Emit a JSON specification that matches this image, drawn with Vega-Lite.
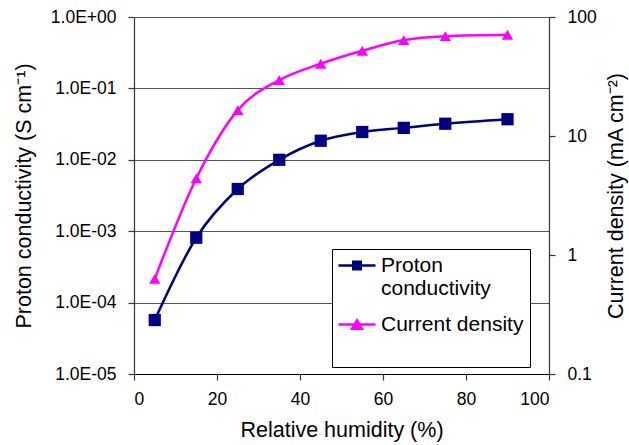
{
  "$schema": "https://vega.github.io/schema/vega-lite/v6.json",
  "width": 415,
  "height": 357,
  "autosize": {"type": "none"},
  "padding": {"left": 134, "top": 17, "right": 80, "bottom": 71},
  "background": "white",
  "config": {
    "font": "Liberation Sans",
    "view": {"stroke": null},
    "axis": {
      "labelFont": "Liberation Sans",
      "titleFont": "Liberation Sans",
      "labelColor": "black",
      "titleColor": "black",
      "titleFontWeight": "normal",
      "domainColor": "#333333",
      "tickColor": "#333333",
      "domainWidth": 1.2,
      "tickWidth": 1.2,
      "tickSize": 6
    }
  },
  "data": {
    "values": [
      {"rh": 5, "series": "Proton conductivity", "value": 0.000057},
      {"rh": 15, "series": "Proton conductivity", "value": 0.00081},
      {"rh": 25, "series": "Proton conductivity", "value": 0.0039},
      {"rh": 35, "series": "Proton conductivity", "value": 0.010},
      {"rh": 45, "series": "Proton conductivity", "value": 0.0185},
      {"rh": 55, "series": "Proton conductivity", "value": 0.0245},
      {"rh": 65, "series": "Proton conductivity", "value": 0.028},
      {"rh": 75, "series": "Proton conductivity", "value": 0.032},
      {"rh": 90, "series": "Proton conductivity", "value": 0.037},
      {"rh": 5, "series": "Current density", "value": 0.63},
      {"rh": 15, "series": "Current density", "value": 4.4},
      {"rh": 25, "series": "Current density", "value": 16.5},
      {"rh": 35, "series": "Current density", "value": 29.5},
      {"rh": 45, "series": "Current density", "value": 40.5},
      {"rh": 55, "series": "Current density", "value": 52},
      {"rh": 65, "series": "Current density", "value": 64},
      {"rh": 75, "series": "Current density", "value": 69},
      {"rh": 90, "series": "Current density", "value": 71}
    ]
  },
  "encoding": {
    "x": {
      "field": "rh",
      "type": "quantitative",
      "scale": {"domain": [0, 100], "nice": false},
      "axis": {
        "title": "Relative humidity (%)",
        "values": [0, 20, 40, 60, 80, 100],
        "grid": false,
        "labelFontSize": 17.5,
        "titleFontSize": 21.5,
        "labelPadding": 10,
        "titlePadding": 12,
        "domainColor": "black"
      }
    }
  },
  "layer": [
    {
      "transform": [{"filter": "datum.series == 'Proton conductivity'"}],
      "encoding": {
        "y": {
          "field": "value",
          "type": "quantitative",
          "scale": {"type": "log", "domain": [0.00001, 1], "nice": false},
          "axis": {
            "orient": "left",
            "title": "Proton conductivity (S cm⁻¹)",
            "values": [0.00001, 0.0001, 0.001, 0.01, 0.1, 1],
            "labelExpr": "'1.0E' + (datum.value >= 1 ? '+' : '-') + '0' + abs(round(log(datum.value)/LN10))",
            "grid": true,
            "gridColor": "#555555",
            "gridWidth": 1.2,
            "labelFontSize": 17.5,
            "titleFontSize": 21.5,
            "labelPadding": 12,
            "titlePadding": 15
          }
        }
      },
      "layer": [
        {"mark": {"type": "line", "color": "#000080", "strokeWidth": 2.5, "interpolate": "monotone"}},
        {"mark": {"type": "point", "shape": "square", "filled": true, "color": "#000080", "size": 150, "opacity": 1}},
        {
          "mark": {"type": "point", "filled": true, "opacity": 0, "size": 400},
          "encoding": {
            "color": {
              "field": "series",
              "type": "nominal",
              "scale": {"domain": ["Proton conductivity", "Current density"], "range": ["#000080", "#FF00FF"]},
              "legend": {
                "title": "\u00a0",
                "titleOrient": "bottom",
                "titleFontSize": 26,
                "titlePadding": 0,
                "orient": "none",
                "legendX": 198,
                "legendY": 232,
                "strokeColor": "black",
                "fillColor": "white",
                "padding": 6,
                "symbolSize": 400,
                "symbolOpacity": 1,
                "symbolStrokeWidth": 0,
                "labelFontSize": 21,
                "labelFont": "Liberation Sans",
                "labelColor": "black",
                "labelLimit": 300,
                "labelOffset": 22,
                "rowPadding": 14,
                "labelExpr": "datum.label == 'Proton conductivity' ? ['Proton', 'conductivity'] : datum.label"
              }
            },
            "shape": {
              "field": "series",
              "type": "nominal",
              "scale": {
                "domain": ["Proton conductivity", "Current density"],
                "range": [
                  "M-1,-0.125H2.7V0.125H-1Z M0.35,-0.5H1.35V0.5H0.35Z",
                  "M-1,-0.125H2.7V0.125H-1Z M0.85,-0.65L1.57,0.55H0.13Z"
                ]
              },
              "legend": {
                "title": "\u00a0",
                "titleOrient": "bottom",
                "titleFontSize": 26,
                "titlePadding": 0,
                "orient": "none",
                "legendX": 198,
                "legendY": 232,
                "strokeColor": "black",
                "fillColor": "white",
                "padding": 6,
                "symbolSize": 400,
                "symbolOpacity": 1,
                "symbolStrokeWidth": 0,
                "labelFontSize": 21,
                "labelFont": "Liberation Sans",
                "labelColor": "black",
                "labelLimit": 300,
                "labelOffset": 22,
                "rowPadding": 14,
                "labelExpr": "datum.label == 'Proton conductivity' ? ['Proton', 'conductivity'] : datum.label"
              }
            }
          }
        }
      ]
    },
    {
      "transform": [{"filter": "datum.series == 'Current density'"}],
      "encoding": {
        "y": {
          "field": "value",
          "type": "quantitative",
          "scale": {"type": "log", "domain": [0.1, 100], "nice": false},
          "axis": {
            "orient": "right",
            "title": "Current density (mA cm⁻²)",
            "values": [0.1, 1, 10, 100],
            "format": "~g",
            "grid": false,
            "labelFontSize": 17.5,
            "titleFontSize": 21.5,
            "titleAngle": 270,
            "labelPadding": 12,
            "titlePadding": 31
          }
        }
      },
      "layer": [
        {"mark": {"type": "line", "color": "#FF00FF", "strokeWidth": 2.5, "interpolate": "monotone"}},
        {"mark": {"type": "point", "shape": "triangle-up", "filled": true, "color": "#FF00FF", "size": 130, "opacity": 1}}
      ]
    }
  ],
  "resolve": {"scale": {"y": "independent"}}
}
